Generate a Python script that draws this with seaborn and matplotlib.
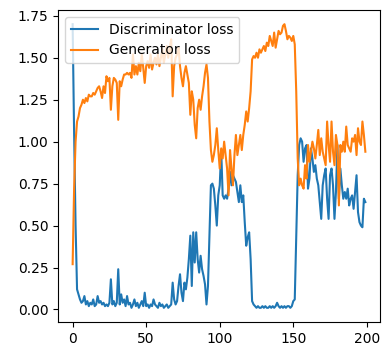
import matplotlib
matplotlib.use("Agg")
import matplotlib.pyplot as plt
import seaborn as sns
import pandas as pd

disc_loss = [
    1.70, 1.05, 0.50, 0.12, 0.09, 0.06, 0.04, 0.05, 0.08, 0.03,
    0.05, 0.02, 0.04, 0.03, 0.06, 0.02, 0.03, 0.08, 0.04, 0.05,
    0.03, 0.04, 0.02, 0.03, 0.02, 0.04, 0.18, 0.03, 0.05, 0.02,
    0.04, 0.24, 0.03, 0.09, 0.04, 0.06, 0.02, 0.08, 0.03, 0.04,
    0.01, 0.03, 0.06, 0.02, 0.04, 0.01, 0.03, 0.05, 0.02, 0.10,
    0.02, 0.03, 0.01, 0.03, 0.02, 0.06, 0.03, 0.02, 0.01, 0.04,
    0.02, 0.03, 0.01, 0.02, 0.03, 0.01, 0.02, 0.03, 0.16, 0.06,
    0.03, 0.05, 0.14, 0.21, 0.10, 0.05, 0.16, 0.12, 0.19, 0.30,
    0.44, 0.14, 0.46, 0.28, 0.46, 0.30, 0.22, 0.32, 0.24, 0.20,
    0.15, 0.03, 0.14, 0.45, 0.74, 0.75, 0.72, 0.62, 0.50, 0.68,
    0.74, 0.95, 0.68, 0.66, 0.68, 0.66, 0.72, 0.82, 0.74, 0.80,
    0.78, 0.76, 0.70, 0.64, 0.74, 0.64, 0.68, 0.52, 0.38, 0.43,
    0.46, 0.30, 0.05, 0.03, 0.02, 0.01, 0.02, 0.01, 0.01, 0.02,
    0.01, 0.02, 0.01, 0.01, 0.02, 0.01, 0.02, 0.01, 0.02, 0.04,
    0.02, 0.01, 0.02, 0.01, 0.02, 0.01, 0.02, 0.02, 0.01, 0.02,
    0.05, 0.06, 0.42, 0.80, 0.98, 1.02, 1.00, 0.88, 0.96, 0.98,
    0.72, 0.78, 0.96, 0.90, 0.82, 0.86, 0.78, 0.74, 0.64, 0.54,
    0.74, 0.80, 0.84, 0.66, 0.54, 0.80, 0.84, 0.74, 0.54, 0.70,
    0.98, 0.66, 0.84, 0.74, 0.66, 0.70, 0.66, 0.72, 0.62, 0.66,
    0.68, 0.60, 0.70, 0.80, 0.58, 0.52, 0.50, 0.49, 0.66, 0.64,
]

gen_loss = [
    0.27, 0.72, 1.00, 1.12, 1.15, 1.20, 1.22, 1.25, 1.23, 1.26,
    1.24, 1.28, 1.27, 1.27, 1.29, 1.28, 1.30, 1.32, 1.33, 1.30,
    1.26, 1.33, 1.29, 1.39, 1.36, 1.38, 1.19, 1.33, 1.38, 1.37,
    1.35, 1.13, 1.36, 1.33, 1.37, 1.40, 1.40, 1.41, 1.40, 1.41,
    1.38, 1.52, 1.40, 1.45, 1.40, 1.47, 1.42, 1.52, 1.44, 1.35,
    1.45, 1.48, 1.44, 1.52, 1.43, 1.47, 1.50, 1.46, 1.52, 1.45,
    1.50, 1.55, 1.47, 1.52, 1.57, 1.50, 1.56, 1.61, 1.27, 1.45,
    1.50, 1.52, 1.56, 1.45, 1.38, 1.33, 1.41, 1.45, 1.40, 1.35,
    1.16, 1.30, 1.25, 1.10, 1.02, 1.20, 1.25, 1.19, 1.27, 1.33,
    1.41, 1.46, 1.38, 1.12, 0.95, 0.88, 0.92, 0.98, 1.08, 0.95,
    0.84, 0.96, 0.90, 1.00, 0.92, 0.84, 0.68, 0.95, 0.84, 0.74,
    0.92, 1.04, 0.92, 0.98, 1.04, 0.95, 1.04, 1.10, 1.18, 1.12,
    1.20, 1.30, 1.49, 1.51, 1.50, 1.53, 1.50, 1.55, 1.53, 1.55,
    1.57, 1.54, 1.59, 1.57, 1.63, 1.60, 1.57, 1.65, 1.56, 1.61,
    1.66, 1.64, 1.65, 1.69, 1.70, 1.66, 1.61, 1.63, 1.62, 1.60,
    1.63, 1.58, 1.30, 0.90, 0.74, 0.78, 0.74, 0.72, 0.86, 0.78,
    0.98, 0.88, 0.94, 1.00, 0.96, 0.90, 0.98, 1.07, 0.92, 1.02,
    0.94, 0.90, 0.86, 1.12, 0.98, 0.88, 1.12, 0.94, 0.86, 1.04,
    0.98, 0.62, 0.98, 0.94, 1.00, 0.94, 1.09, 0.98, 0.96, 0.94,
    1.02, 1.00, 1.04, 0.92, 1.08, 1.00, 0.98, 1.12, 1.04, 0.94,
]

labels = ["Discriminator loss", "Generator loss"]
epochs = list(range(len(disc_loss)))

df = pd.DataFrame({"epoch": epochs, "disc": disc_loss, "gen": gen_loss})

fig = plt.figure(figsize=(3.84, 3.46), dpi=100)
ax = fig.add_axes([58 / 384, 24 / 346, (380 - 58) / 384, (322 - 10) / 346])

sns.lineplot(data=df, x="epoch", y="disc", ax=ax, color="#1f77b4", label=labels[0])
sns.lineplot(data=df, x="epoch", y="gen", ax=ax, color="#ff7f0e", label=labels[1])

ax.set_xlabel("")
ax.set_ylabel("")
ax.set_xticks([0, 50, 100, 150, 200])
ax.set_yticks([0.0, 0.25, 0.5, 0.75, 1.0, 1.25, 1.5, 1.75])
ax.legend(loc="upper left")

fig.savefig("out.png", dpi=100)
